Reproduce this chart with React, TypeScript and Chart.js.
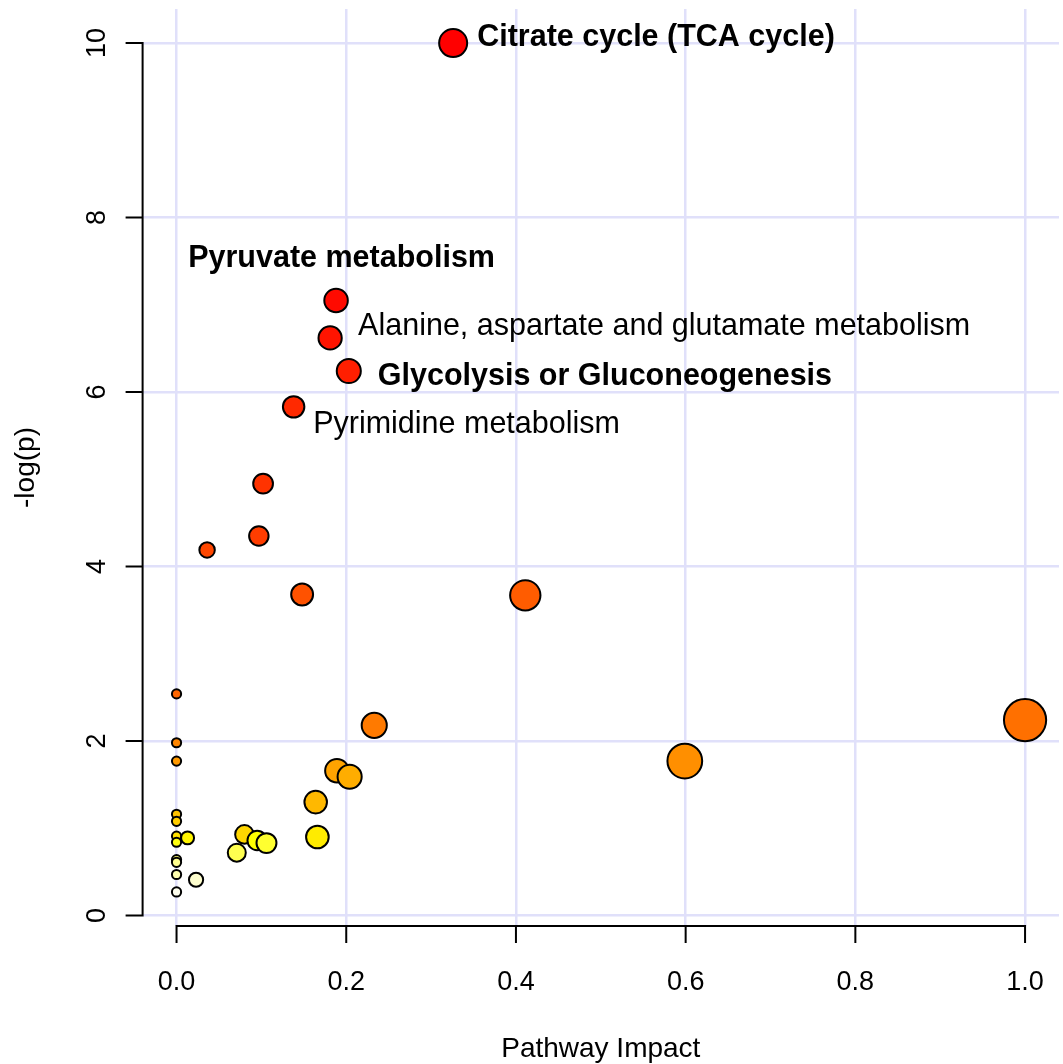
import React, { useEffect, useRef } from "react";
import { Chart, registerables } from "chart.js";

Chart.register(...registerables);

// ---- data ----
const pathwayImpact: number[] = [
  0.326, 0.188, 0.181, 0.203, 0.138, 0.102, 0.097, 0.036, 0.148, 0.411,
  0.0, 1.0, 0.233, 0.0, 0.599, 0.0, 0.189, 0.204, 0.164, 0.0,
  0.0, 0.08, 0.0, 0.166, 0.013, 0.095, 0.0, 0.106, 0.071, 0.0,
  0.0, 0.0, 0.023, 0.0,
];
const negLogP: number[] = [
  10.0, 7.05, 6.62, 6.24, 5.83, 4.95, 4.35, 4.19, 3.68, 3.67,
  2.54, 2.24, 2.18, 1.98, 1.77, 1.77, 1.66, 1.59, 1.3, 1.16,
  1.08, 0.93, 0.91, 0.9, 0.89, 0.86, 0.84, 0.83, 0.72, 0.64,
  0.61, 0.47, 0.41, 0.27,
];
const labelIndex: number[] = [0, 1, 2, 3, 4];
const labelText: string[] = [
  "Citrate cycle (TCA cycle)",
  "Pyruvate metabolism",
  "Alanine, aspartate and glutamate metabolism",
  "Glycolysis or Gluconeogenesis",
  "Pyrimidine metabolism",
];
const xTickValues: number[] = [0, 0.2, 0.4, 0.6, 0.8, 1.0];
const yTickValues: number[] = [0, 2, 4, 6, 8, 10];
const xTitle = "Pathway Impact";
const yTitle = "-log(p)";

// ---- styles ----
const labelStyle = [
  { bold: true, align: "left", dx: 24, dy: 3 },
  { bold: true, align: "center", dx: 5.5, dy: -33 },
  { bold: false, align: "left", dx: 28, dy: -3 },
  { bold: true, align: "left", dx: 29, dy: 14 },
  { bold: false, align: "left", dx: 19.5, dy: 26 },
];
const FONT = '"Liberation Sans", Arial, sans-serif';
const GRID = "rgb(224,224,250)";

function hsvHex(h: number, s: number, v: number): string {
  const i = Math.floor(h * 6);
  const f = h * 6 - i;
  const p = v * (1 - s);
  const q = v * (1 - f * s);
  const t = v * (1 - (1 - f) * s);
  let r = 0, g = 0, b = 0;
  switch (((i % 6) + 6) % 6) {
    case 0: r = v; g = t; b = p; break;
    case 1: r = q; g = v; b = p; break;
    case 2: r = p; g = v; b = t; break;
    case 3: r = p; g = q; b = v; break;
    case 4: r = t; g = p; b = v; break;
    default: r = v; g = p; b = q;
  }
  const hx = (c: number) => Math.round(c * 255).toString(16).padStart(2, "0");
  return "#" + hx(r) + hx(g) + hx(b);
}

// R's heat.colors(n)
function heatColors(n: number): string[] {
  const j = Math.floor(n / 4);
  const i = n - j;
  const cols: string[] = [];
  for (let k = 0; k < i; k++) cols.push(hsvHex((i > 1 ? k / (i - 1) : 0) / 6, 1, 1));
  const s0 = 1 - 1 / (2 * j);
  const s1 = 1 / (2 * j);
  for (let k = 0; k < j; k++) {
    const s = j > 1 ? s0 + (k * (s1 - s0)) / (j - 1) : s0;
    cols.push(hsvHex(1 / 6, s, 1));
  }
  return cols;
}

const rAxisPlugin = {
  id: "rAxis",
  afterDraw(chart: any) {
    const { ctx, scales } = chart;
    const xs = scales.x;
    const ys = scales.y;
    const left = chart.chartArea.left;
    const bottom = chart.chartArea.bottom;
    ctx.save();
    ctx.strokeStyle = "#000";
    ctx.fillStyle = "#000";
    ctx.lineWidth = 2;
    ctx.lineCap = "butt";
    // y axis
    const y0 = ys.getPixelForValue(yTickValues[0]);
    const y1 = ys.getPixelForValue(yTickValues[yTickValues.length - 1]);
    ctx.beginPath();
    ctx.moveTo(left, y0 + 1);
    ctx.lineTo(left, y1 - 1);
    yTickValues.forEach((v) => {
      const py = ys.getPixelForValue(v);
      ctx.moveTo(left, py);
      ctx.lineTo(left - 17, py);
    });
    ctx.stroke();
    ctx.font = `27px ${FONT}`;
    ctx.textAlign = "center";
    ctx.textBaseline = "alphabetic";
    yTickValues.forEach((v) => {
      const py = ys.getPixelForValue(v);
      ctx.save();
      ctx.translate(105, py);
      ctx.rotate(-Math.PI / 2);
      ctx.fillText(String(v), 0, 0);
      ctx.restore();
    });
    // x axis
    const x0 = xs.getPixelForValue(xTickValues[0]);
    const x1 = xs.getPixelForValue(xTickValues[xTickValues.length - 1]);
    ctx.beginPath();
    ctx.moveTo(x0 - 1, bottom);
    ctx.lineTo(x1 + 1, bottom);
    xTickValues.forEach((v) => {
      const px = xs.getPixelForValue(v);
      ctx.moveTo(px, bottom);
      ctx.lineTo(px, bottom + 17);
    });
    ctx.stroke();
    xTickValues.forEach((v) => {
      const px = xs.getPixelForValue(v);
      ctx.fillText(v.toFixed(1), px, 990);
    });
    // titles
    ctx.font = `28px ${FONT}`;
    const cx = (chart.chartArea.left + chart.chartArea.right) / 2;
    ctx.fillText(xTitle, cx, 1057);
    const cy = (chart.chartArea.top + chart.chartArea.bottom) / 2;
    ctx.save();
    ctx.translate(34, cy);
    ctx.rotate(-Math.PI / 2);
    ctx.fillText(yTitle, 0, 0);
    ctx.restore();
    // point labels
    labelIndex.forEach((idx, k) => {
      const st = labelStyle[k];
      const px = xs.getPixelForValue(pathwayImpact[idx]);
      const py = ys.getPixelForValue(negLogP[idx]);
      ctx.font = `${st.bold ? "bold " : ""}30.5px ${FONT}`;
      ctx.textAlign = st.align as CanvasTextAlign;
      ctx.fillText(labelText[k], px + st.dx, py + st.dy);
    });
    ctx.restore();
  },
};

export default function App() {
  const canvasRef = useRef<HTMLCanvasElement | null>(null);

  useEffect(() => {
    if (!canvasRef.current) return;
    const n = negLogP.length;
    const palette = heatColors(n);
    const order = negLogP.map((_, i) => i).sort((a, b) => negLogP[b] - negLogP[a]);
    const colors: string[] = new Array(n);
    order.forEach((idx, rank) => (colors[idx] = palette[rank]));
    const radii = pathwayImpact.map((v) => 4.6 + 16.5 * Math.sqrt(v));

    const chart = new Chart(canvasRef.current, {
      type: "scatter",
      data: {
        datasets: [
          {
            data: pathwayImpact.map((x, i) => ({ x, y: negLogP[i] })),
            backgroundColor: colors,
            borderColor: "#000",
            borderWidth: 2,
            pointRadius: radii,
            pointHoverRadius: radii,
            clip: false,
          },
        ],
      },
      options: {
        responsive: false,
        animation: false,
        events: [],
        layout: { autoPadding: false, padding: { top: 9, right: 4, left: 0, bottom: 0 } },
        plugins: { legend: { display: false }, tooltip: { enabled: false } },
        scales: {
          x: {
            type: "linear",
            min: -0.04,
            max: 1.04,
            afterBuildTicks: (axis: any) => {
              axis.ticks = xTickValues.map((v) => ({ value: v }));
            },
            afterFit: (axis: any) => {
              axis.height = 138;
            },
            ticks: { display: false },
            grid: { color: GRID, lineWidth: 2.5, drawTicks: false },
            border: { display: false },
          },
          y: {
            type: "linear",
            min: -0.12,
            max: 10.39,
            afterBuildTicks: (axis: any) => {
              axis.ticks = yTickValues.map((v) => ({ value: v }));
            },
            afterFit: (axis: any) => {
              axis.width = 142.6;
            },
            ticks: { display: false },
            grid: { color: GRID, lineWidth: 2.5, drawTicks: false },
            border: { display: false },
          },
        },
      },
      plugins: [rAxisPlugin],
    });
    return () => chart.destroy();
  }, []);

  return (
    <div style={{ position: "absolute", left: 0, top: 0, width: 1063, height: 1064, background: "#fff" }}>
      <canvas ref={canvasRef} width={1063} height={1064} style={{ display: "block", width: 1063, height: 1064 }} />
    </div>
  );
}
